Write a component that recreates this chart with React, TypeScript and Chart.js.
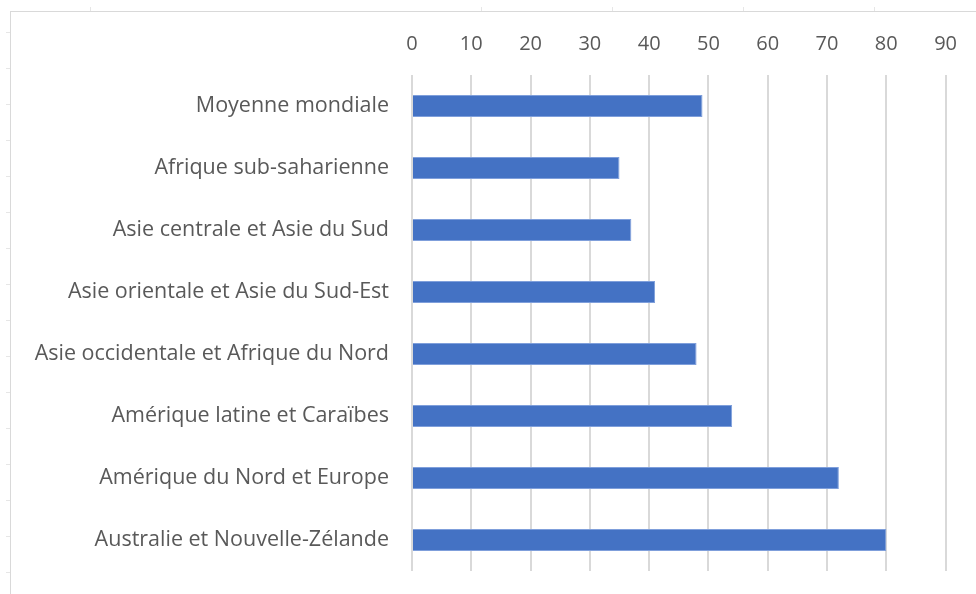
import React, { useEffect, useRef } from "react";
import { Chart, registerables } from "chart.js";

Chart.register(...registerables);

const categories: string[] = [
  "Moyenne mondiale",
  "Afrique sub-saharienne",
  "Asie centrale et Asie du Sud",
  "Asie orientale et Asie du Sud-Est",
  "Asie occidentale et Afrique du Nord",
  "Amérique latine et Caraïbes",
  "Amérique du Nord et Europe",
  "Australie et Nouvelle-Zélande",
];

const values: number[] = [49, 35, 37, 41, 48, 54, 72, 80];

const xMin = 0;
const xMax = 90;
const xStep = 10;

const FONT = "'Open Sans', sans-serif";
const TEXT = "#595959";
const GRID = "#d9d9d9";
const BAR = "#4472C4";

export default function App() {
  const ref = useRef<HTMLCanvasElement | null>(null);

  useEffect(() => {
    if (!ref.current) return;
    const chart = new Chart(ref.current, {
      type: "bar",
      data: {
        labels: categories,
        datasets: [
          {
            data: values,
            backgroundColor: BAR,
            borderColor: "#7f9fdb",
            borderWidth: 1,
            barPercentage: 0.355,
            categoryPercentage: 1,
          },
        ],
      },
      options: {
        indexAxis: "y",
        animation: false,
        responsive: false,
        maintainAspectRatio: false,
        layout: { padding: { top: 0, right: 29, bottom: 23, left: 0 } },
        plugins: { legend: { display: false }, tooltip: { enabled: false } },
        scales: {
          x: {
            position: "top",
            min: xMin,
            max: xMax,
            ticks: {
              stepSize: xStep,
              color: TEXT,
              font: { family: FONT, size: 20 },
              padding: 19,
            },
            grid: { color: GRID, lineWidth: 2, drawTicks: false },
            border: { display: false },
            afterFit: (s: any) => {
              s.height = 62;
            },
          },
          y: {
            ticks: {
              color: TEXT,
              font: { family: FONT, size: 21.5 },
              padding: 23,
            },
            grid: { display: false, drawTicks: false },
            border: { display: false },
            afterFit: (s: any) => {
              s.width = 401;
              s.paddingTop = 0;
              s.paddingBottom = 0;
            },
          },
        },
      },
    });
    return () => chart.destroy();
  }, []);

  const leftTicks = [] as number[];
  for (let y = 32; y < 594; y += 36) leftTicks.push(y);
  const topTicks = [90, 481, 612, 743, 874];

  return (
    <div
      style={{
        position: "fixed",
        left: 0,
        top: 0,
        width: 976,
        height: 594,
        background: "#fff",
        overflow: "hidden",
      }}
    >
      <div
        style={{
          position: "absolute",
          left: 10,
          top: 11,
          width: 966,
          height: 583,
          borderLeft: `1px solid ${GRID}`,
          borderTop: `1px solid ${GRID}`,
        }}
      />
      {leftTicks.map((y) => (
        <div
          key={"l" + y}
          style={{ position: "absolute", left: 6, top: y, width: 4, height: 1, background: "#e6e6e6" }}
        />
      ))}
      {topTicks.map((x) => (
        <div
          key={"t" + x}
          style={{ position: "absolute", left: x, top: 7, width: 1, height: 4, background: "#e6e6e6" }}
        />
      ))}
      <canvas
        ref={ref}
        width={965}
        height={581}
        style={{ position: "absolute", left: 11, top: 13, width: 965, height: 581 }}
      />
    </div>
  );
}
